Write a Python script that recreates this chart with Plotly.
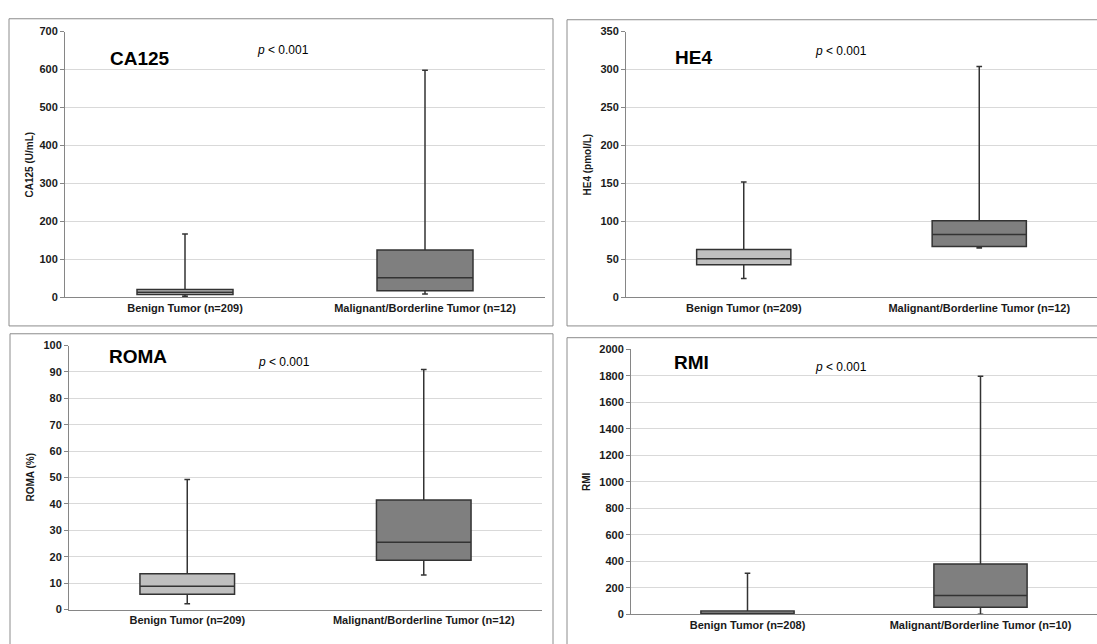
import plotly.graph_objects as go

W, H = 1097, 644

cats_main = ["Benign Tumor (n=209)", "Malignant/Borderline Tumor (n=12)"]
cats_rmi = ["Benign Tumor (n=208)", "Malignant/Borderline Tumor (n=10)"]

ca125_low = [3, 9]
ca125_q1 = [8, 18]
ca125_med = [14, 52]
ca125_q3 = [21, 125]
ca125_high = [167, 598]

he4_low = [25, 65]
he4_q1 = [43, 67]
he4_med = [51, 83]
he4_q3 = [63, 101]
he4_high = [152, 304]

roma_low = [2.2, 13.1]
roma_q1 = [5.8, 18.7]
roma_med = [8.8, 25.5]
roma_q3 = [13.6, 41.5]
roma_high = [49.3, 90.9]

rmi_low = [0, 2]
rmi_q1 = [2, 54]
rmi_med = [6, 143]
rmi_q3 = [26, 381]
rmi_high = [311, 1797]

fills = ["#bfbfbf", "#7f7f7f"]

# pixel layout: plot x0, x1, y_top, y_bottom ; border ; title ; p ; ytitle x
panels = [
    dict(name="CA125", ytitle="CA125 (U/mL)", cats=cats_main,
         stats=(ca125_low, ca125_q1, ca125_med, ca125_q3, ca125_high),
         yrange=[0, 700], dtick=100, widths=[0.40, 0.40],
         px=(65, 545, 26, 297), border=(9, 13, 553, 326),
         tpos=(108, 53), ppos=(255, 45), ytx=29),
    dict(name="HE4", ytitle="HE4 (pmol/L)", cats=cats_main,
         stats=(he4_low, he4_q1, he4_med, he4_q3, he4_high),
         yrange=[0, 350], dtick=50, widths=[0.40, 0.40],
         px=(626, 1097, 26, 297), border=(567, 14, 1102, 326),
         tpos=(673, 52), ppos=(813, 46), ytx=587),
    dict(name="ROMA", ytitle="ROMA (%)", cats=cats_main,
         stats=(roma_low, roma_q1, roma_med, roma_q3, roma_high),
         yrange=[0, 100], dtick=10, widths=[0.40, 0.40],
         px=(69, 542, 346, 615), border=(10, 334, 553, 660),
         tpos=(107, 357), ppos=(256, 363), ytx=31),
    dict(name="RMI", ytitle="RMI", cats=cats_rmi,
         stats=(rmi_low, rmi_q1, rmi_med, rmi_q3, rmi_high),
         yrange=[0, 2000], dtick=200, widths=[0.40, 0.40],
         px=(631, 1097, 350, 620), border=(567, 338, 1102, 660),
         tpos=(672, 363), ppos=(813, 368), ytx=587),
]

FONT = "Liberation Sans"
fig = go.Figure()
shapes = []
annotations = []

for i, p in enumerate(panels):
    n = "" if i == 0 else str(i + 1)
    xa, ya = "x" + n, "y" + n
    low, q1, med, q3, high = p["stats"]
    for j in range(2):
        fig.add_trace(go.Box(
            x=[p["cats"][j]], lowerfence=[low[j]], q1=[q1[j]], median=[med[j]],
            q3=[q3[j]], upperfence=[high[j]],
            fillcolor=fills[j], line=dict(color="#333333", width=1.5),
            width=p["widths"][j], whiskerwidth=0.06, boxpoints=False,
            showlegend=False, hoverinfo="skip", xaxis=xa, yaxis=ya))
    x0, x1, yt, yb = p["px"]
    axis_common = dict(showline=True, linecolor="#868686", linewidth=1)
    tf = dict(family=FONT, size=11, color="#1a1a1a", weight="bold")
    fig.update_layout(**{
        "xaxis" + n: dict(domain=[x0 / W, x1 / W], anchor=ya, type="category",
                          categoryorder="array", categoryarray=p["cats"],
                          range=[-0.5, 1.5], showgrid=False, zeroline=False,
                          tickfont=tf, **axis_common),
        "yaxis" + n: dict(domain=[1 - yb / H, 1 - yt / H], anchor=xa,
                          range=p["yrange"], dtick=p["dtick"], showgrid=True,
                          gridcolor="#d9d9d9", gridwidth=1, zeroline=False,
                          ticks="outside", ticklen=4, tickcolor="#868686",
                          tickfont=tf, **axis_common),
    })
    bx0, by0, bx1, by1 = p["border"]
    shapes.append(dict(type="rect", xref="paper", yref="paper",
                       x0=bx0 / W, x1=bx1 / W, y0=1 - by1 / H, y1=1 - by0 / H,
                       line=dict(color="#8c8c8c", width=1), layer="below"))
    annotations.append(dict(text="<b>" + p["name"] + "</b>", xref="paper", yref="paper",
                            x=p["tpos"][0] / W, y=1 - p["tpos"][1] / H,
                            xanchor="left", yanchor="middle", showarrow=False,
                            font=dict(family=FONT, size=19, color="#000000")))
    annotations.append(dict(text="<i>p</i> < 0.001", xref="paper", yref="paper",
                            x=p["ppos"][0] / W, y=1 - p["ppos"][1] / H,
                            xanchor="left", yanchor="middle", showarrow=False,
                            font=dict(family=FONT, size=12, color="#000000")))
    annotations.append(dict(text="<b>" + p["ytitle"] + "</b>", xref="paper", yref="paper",
                            x=p["ytx"] / W, y=1 - (yt + yb) / 2 / H, textangle=-90,
                            xanchor="center", yanchor="middle", showarrow=False,
                            font=dict(family=FONT, size=10, color="#1a1a1a")))

fig.update_layout(width=W, height=H, autosize=False,
                  margin=dict(l=0, r=0, t=0, b=0),
                  paper_bgcolor="white", plot_bgcolor="white",
                  boxmode="overlay", shapes=shapes, annotations=annotations)

fig.write_html("out.html", config={"displayModeBar": False},
               post_script="document.body.style.margin='0';")
